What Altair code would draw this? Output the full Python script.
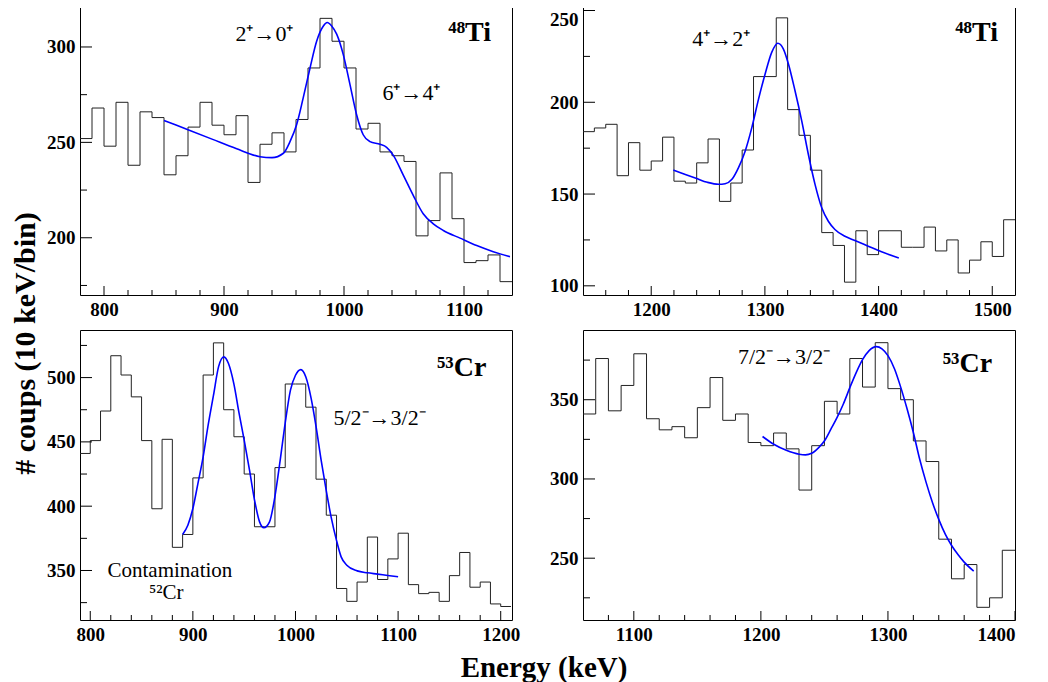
import altair as alt
import pandas as pd

FONT = "Liberation Serif"
W, H = 432, 290
BIN = 10

# ---------------- Panel 1 : 48Ti (2+ -> 0+, 6+ -> 4+) ----------------
p1_start = 780
p1_counts = [252, 268, 248, 271, 238, 266, 263, 233, 243, 258, 271, 259,
             254, 264, 229, 249, 255, 245, 262, 289, 315, 303, 289, 257,
             260, 245, 243, 240, 201, 209, 234, 210, 187, 188, 191, 177]
p1_fit_e = [850, 870, 890, 910, 930, 940, 949.5, 955, 960.5, 966, 971.7, 977.2,
            982.8, 986, 989.7, 993.9, 999.4, 1005, 1010.5, 1016, 1021.6, 1030,
            1035.5, 1041, 1049.4, 1057.7, 1066, 1074.4, 1082.8, 1096.7, 1110.6,
            1124.4, 1138.3]
p1_fit_v = [261.5, 256.6, 251.7, 246.8, 242.5, 242, 244.3, 250.4, 259.2, 273.3,
            289, 303, 311, 312.8, 311, 306.7, 296, 280.3, 264.5, 254, 250.4, 249,
            247.4, 243.3, 232.8, 222.2, 212.6, 207.3, 203.8, 199.8, 195.9, 192.7,
            190.1]

# ---------------- Panel 2 : 48Ti (4+ -> 2+) ----------------
p2_start = 1140
p2_counts = [184, 186, 188, 160, 178, 163, 168, 181, 157, 156, 167, 180, 146,
             156, 174, 214, 214, 246, 196, 182, 163, 129, 122, 102, 130, 117,
             130, 130, 121, 121, 132, 119, 125, 107, 114, 124, 116, 136]
p2_fit_e = [1219.5, 1230, 1239.4, 1249.4, 1259.3, 1265, 1271, 1276.8, 1282.7,
            1288.5, 1294.4, 1300.2, 1306, 1311.3, 1316.3, 1320.7, 1326.5, 1332.4,
            1338.2, 1344.1, 1350, 1355.8, 1361.6, 1370.4, 1379.2, 1390.9, 1402.6,
            1417.8]
p2_fit_v = [163.1, 160.7, 158.6, 156.4, 155.3, 155.6, 158, 164.4, 173.5, 186.2,
            201.7, 215.4, 227.2, 232.2, 229, 220.9, 206.3, 189.9, 171.7, 155.3,
            142.5, 135.2, 130.7, 127, 124.7, 121.6, 118.5, 115.2]

# ---------------- Panel 3 : 53Cr (5/2- -> 3/2-) ----------------
p3_start = 790
p3_counts = [441, 451, 474, 517, 502, 485, 451, 398, 452, 368, 378, 422, 502,
             527, 475, 454, 425, 384, 384, 430, 495, 495, 477, 421, 393, 336,
             326, 341, 376, 343, 359, 379, 339, 332, 333, 326, 346, 364, 337,
             341, 324, 322]
p3_fit_e = [890, 895.1, 900, 904.9, 910, 914.6, 920.1, 925, 930.2, 934.7, 939.9,
            945.1, 950, 955.2, 960.1, 965, 969.2, 974.7, 979.9, 985.1, 989.9,
            995.1, 1000, 1005.2, 1010.1, 1015.3, 1020.1, 1025, 1029.9, 1034.7,
            1039.9, 1044.5, 1050, 1060.1, 1070.1, 1079.9, 1089.9, 1100]
p3_fit_v = [378, 385.2, 398.2, 417.6, 438.3, 461.7, 486.3, 508.3, 516.1, 510.9,
            495.3, 472, 451.3, 428, 404.7, 387.8, 383.2, 387.8, 407.3, 435.8,
            464.2, 490.2, 501.8, 506.2, 500.5, 483.7, 461.7, 435.8, 412.4, 391.7,
            373.6, 360.6, 354.1, 349.7, 348.2, 347.2, 346.1, 345.1]

# ---------------- Panel 4 : 53Cr (7/2- -> 3/2-) ----------------
p4_start = 1060
p4_counts = [341, 376, 343, 359, 379, 338, 331, 333, 326, 345, 364, 337, 341,
             323, 321, 329, 319, 293, 321, 349, 341, 376, 358, 386, 357, 350,
             324, 311, 262, 237, 246, 219, 225, 255]
p4_fit_e = [1201.3, 1210.1, 1220, 1230.1, 1235.1, 1240, 1245.5, 1250.1, 1255.1,
            1260, 1264.9, 1270.1, 1275.1, 1280, 1285.2, 1290.9, 1295.3, 1300,
            1305.2, 1310.1, 1315.1, 1320, 1325, 1330.1, 1335.1, 1340, 1345.2,
            1350.1, 1355.1, 1360, 1367.5]
p4_fit_v = [326.8, 321.9, 318.1, 315.6, 315.2, 316.2, 319.8, 324.1, 331.4, 338.8,
            347.3, 357.8, 367.3, 375.3, 381, 383.5, 382.1, 377.8, 369.4, 357.8,
            344.1, 329.3, 312.4, 297.7, 285, 274.5, 265, 258, 252.3, 247.5, 241.8]

# axis ranges and tick values
p1_xdom, p1_ydom = [780, 1140], [170, 322]
p2_xdom, p2_ydom = [1140, 1520], [95, 253]
p3_xdom, p3_ydom = [790, 1211], [311.5, 537]
p4_xdom, p4_ydom = [1060, 1400], [211, 394]

p1_ylab, p1_yminor = [200, 250, 300], [175, 225, 275]
p2_ylab, p2_yminor = [100, 150, 200, 250], [125, 175, 225]
p3_ylab, p3_yminor = [350, 400, 450, 500], [325, 375, 425, 475, 525]
p4_ylab, p4_yminor = [250, 300, 350], [225, 275, 325, 375]
p1_xlab = [800, 900, 1000, 1100]
p2_xlab = [1200, 1300, 1400, 1500]
p3_xlab = [800, 900, 1000, 1100, 1200]
p4_xlab = [1100, 1200, 1300, 1400]

# annotations: (x, y, text, size, weight, align)
p1_notes = [(909.5, 303.3, "2⁺→0⁺", 22, "normal", "left"),
            (1032, 272.4, "6⁺→4⁺", 22, "normal", "left"),
            (1122.5, 303.3, "⁴⁸Ti", 28, "bold", "right")]
p2_notes = [(1236, 230.9, "4⁺→2⁺", 22, "normal", "left"),
            (1505, 233.6, "⁴⁸Ti", 28, "bold", "right")]
p3_notes = [(1186, 501, "⁵³Cr", 28, "bold", "right"),
            (1037, 463, "5/2⁻→3/2⁻", 22, "normal", "left"),
            (877.6, 345, "Contamination", 21, "normal", "center"),
            (874, 327.5, "⁵²Cr", 21, "normal", "center")]
p4_notes = [(1182, 372.5, "7/2⁻→3/2⁻", 22, "normal", "left"),
            (1382, 367.3, "⁵³Cr", 28, "bold", "right")]


def hist_df(start, counts):
    edges = [start + BIN * i for i in range(len(counts) + 1)]
    vals = list(counts) + [counts[-1]]
    return pd.DataFrame({"e": edges, "c": vals})


def panel(start, counts, fe, fv, xdom, ydom, xlab, ylab, yminor, notes):
    xs = alt.Scale(domain=xdom, nice=False, zero=False)
    ys = alt.Scale(domain=ydom, nice=False, zero=False)
    xminor = [v for v in range(int(xdom[0]) // 20 * 20, int(xdom[1]) + 1, 20)
              if xdom[0] < v < xdom[1] and v not in xlab]

    hist = alt.Chart(hist_df(start, counts)).mark_line(
        interpolate="step-after", color="#222222", strokeWidth=1, clip=True
    ).encode(
        x=alt.X("e:Q", scale=xs, title=None, axis=alt.Axis(values=xlab, format="d")),
        y=alt.Y("c:Q", scale=ys, title=None,
                axis=alt.Axis(values=ylab, format="d", labelFlush=7)),
    )
    fit = alt.Chart(pd.DataFrame({"e": fe, "v": fv})).mark_line(
        color="#0000ff", strokeWidth=1.6, interpolate="monotone", clip=True
    ).encode(
        x=alt.X("e:Q", scale=xs, title=None),
        y=alt.Y("v:Q", scale=ys, title=None),
    )
    layers = [hist, fit]
    # inward ticks (ROOT style)
    for vals, ln in [(ylab, 12), (yminor, 7)]:
        layers.append(alt.Chart(pd.DataFrame({"t": vals})).mark_rule(
            color="black", strokeWidth=1).encode(
            y=alt.Y("t:Q", scale=ys, title=None),
            x=alt.value(0), x2=alt.value(ln)))
    for vals, ln in [(xlab, 9), (xminor, 5)]:
        layers.append(alt.Chart(pd.DataFrame({"t": vals})).mark_rule(
            color="black", strokeWidth=1).encode(
            x=alt.X("t:Q", scale=xs, title=None),
            y=alt.value(H), y2=alt.value(H - ln)))
    for (nx, ny, txt, size, weight, align) in notes:
        layers.append(alt.Chart(pd.DataFrame({"x": [nx], "y": [ny], "t": [txt]})).mark_text(
            font=FONT, fontSize=size, fontWeight=weight, align=align,
            baseline="alphabetic", color="black").encode(
            x=alt.X("x:Q", scale=xs, title=None),
            y=alt.Y("y:Q", scale=ys, title=None),
            text="t:N"))
    return alt.layer(*layers).properties(width=W, height=H)


c1 = panel(p1_start, p1_counts, p1_fit_e, p1_fit_v, p1_xdom, p1_ydom, p1_xlab, p1_ylab, p1_yminor, p1_notes)
c2 = panel(p2_start, p2_counts, p2_fit_e, p2_fit_v, p2_xdom, p2_ydom, p2_xlab, p2_ylab, p2_yminor, p2_notes)
c3 = panel(p3_start, p3_counts, p3_fit_e, p3_fit_v, p3_xdom, p3_ydom, p3_xlab, p3_ylab, p3_yminor, p3_notes)
c4 = panel(p4_start, p4_counts, p4_fit_e, p4_fit_v, p4_xdom, p4_ydom, p4_xlab, p4_ylab, p4_yminor, p4_notes)

grid = alt.concat(
    c1, c2, c3, c4, columns=2, spacing={"row": 9, "column": 28},
    title=alt.TitleParams("Energy (keV)", orient="bottom", anchor="middle",
                          font=FONT, fontSize=29, fontWeight="bold",
                          color="black", offset=9, dx=13),
)

chart = alt.hconcat(
    grid,
    title=alt.TitleParams("# coups (10 keV/bin)", orient="left", anchor="middle",
                          font=FONT, fontSize=30, fontWeight="bold",
                          color="black", offset=5),
).properties(
    padding={"left": 2, "top": -4, "right": 0, "bottom": 0}
).configure_view(
    stroke="black", strokeWidth=1
).configure_axis(
    labelFont=FONT, labelFontSize=19, labelFontWeight="bold", labelColor="black",
    ticks=False, domain=False, grid=False, labelPadding=5, labelFlush=2,
)

chart.save("out.html", embed_options={"renderer": "svg", "actions": False})
